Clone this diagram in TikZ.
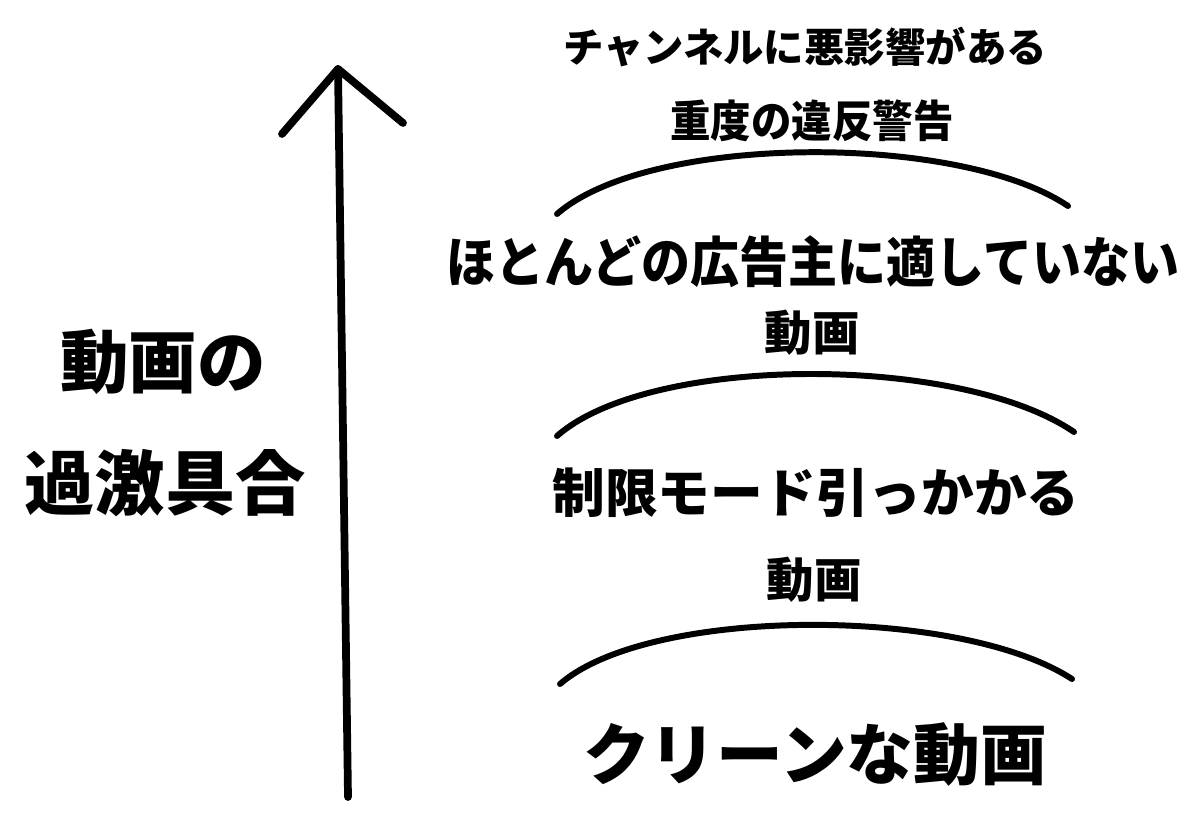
\documentclass[tikz,border=0pt]{standalone}
\usepackage{fontspec}
\newfontfamily\jp{Noto Sans CJK JP}
\begin{document}
\begin{tikzpicture}[x=0.02cm,y=-0.02cm,
  lbl/.style={inner sep=0pt,font=\jp\bfseries},
  stroke/.style={line width=4.4pt,line cap=round,line join=round},
  sep/.style={line width=3.4pt,line cap=round}]
\useasboundingbox[fill=white] (0,0) rectangle (1200,838);
% texts
\node[lbl,font=\jp\bfseries\fontsize{23}{28}\selectfont] (t1) at (805,47) {チャンネルに悪影響がある};
\node[lbl,font=\jp\bfseries\fontsize{25}{30}\selectfont,xscale=0.92] (t2) at (812,121) {重度の違反警告};
\node[lbl,font=\jp\bfseries\fontsize{31}{36}\selectfont,xscale=0.9] (t3) at (813,262) {ほとんどの広告主に適していない};
\node[lbl,font=\jp\bfseries\fontsize{27}{32}\selectfont] (t4) at (812,333) {動画};
\node[lbl,font=\jp\bfseries\fontsize{30}{35}\selectfont] (t5) at (816,493) {制限モード引っかかる};
\node[lbl,font=\jp\bfseries\fontsize{27}{32}\selectfont] (t6) at (814,580) {動画};
\node[lbl,font=\jp\bfseries\fontsize{38}{44}\selectfont] (t7) at (815,755) {クリーンな動画};
\node[lbl,font=\jp\bfseries\fontsize{39}{45}\selectfont] (l1) at (163,362) {動画の};
\node[lbl,font=\jp\bfseries\fontsize{40}{46}\selectfont] (l2) at (165,483) {過激具合};
% arrow
\coordinate (ab) at (348,797);
\coordinate (at) at (338,69);
\coordinate (hl) at (282,134);
\coordinate (hr) at (403,123);
\draw[stroke] (ab) -- (at);
\draw[stroke] (hl) -- (at) -- (hr);
% separator arcs
\coordinate (a1l) at (557,214); \coordinate (a1r) at (1068,206);
\coordinate (a2l) at (557,436); \coordinate (a2r) at (1074,432);
\coordinate (a3l) at (560,684); \coordinate (a3r) at (1072,679);
\draw[sep] (a1l) .. controls (650,133) and (960,133) .. (a1r);
\draw[sep] (a2l) .. controls (650,354) and (960,354) .. (a2r);
\draw[sep] (a3l) .. controls (650,606) and (960,606) .. (a3r);
\end{tikzpicture}
\end{document}
